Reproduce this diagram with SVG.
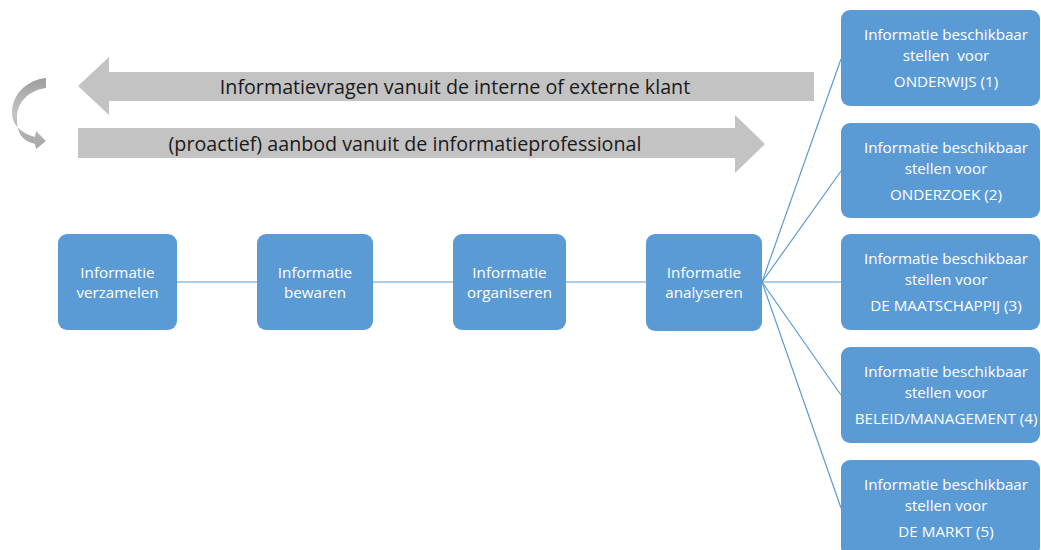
<svg xmlns="http://www.w3.org/2000/svg" width="1041" height="550" viewBox="0 0 1041 550">
<defs>
<style>
.box{fill:#5B9BD5}
.t{font-family:"Open Sans","Liberation Sans",Arial,sans-serif;font-size:15.2px;fill:#ffffff;text-anchor:middle}
.big{font-family:"Open Sans","Liberation Sans",Arial,sans-serif;font-size:19.7px;fill:#1a1a1a;text-anchor:middle}
.con{stroke:#5B9BD5;stroke-width:1.2;fill:none}
.garrow{fill:#C3C3C3}
</style>
<linearGradient id="cg" x1="0" y1="0" x2="0" y2="1">
<stop offset="0" stop-color="#9E9E9E"/>
<stop offset="0.5" stop-color="#C4C4C4"/>
<stop offset="1" stop-color="#A4A4A4"/>
</linearGradient>
</defs>
<rect width="1041" height="550" fill="#ffffff"/>
<g id="arrows">
<polygon class="garrow" points="78,86 109,57 109,72 814,72 814,101 109,101 109,115"/>
<polygon class="garrow" points="78,128 735,128 735,115 765,144 735,173 735,158 78,158"/>
<text class="big" x="455" y="94">Informatievragen vanuit de interne of externe klant</text>
<text class="big" x="405" y="151">(proactief) aanbod vanuit de informatieprofessional</text>
<path fill="url(#cg)" d="M46,78 C26,80 12,95 12,113 C12,124 20,133 35,137 L36,131 L46,141 L36,149 L35,144 C22,141 16,132 17,118 C17,101 30,90 46,88 Z"/>
</g>
<g id="connectors">
<line class="con" x1="177" y1="282" x2="257" y2="282"/>
<line class="con" x1="373" y1="282" x2="453" y2="282"/>
<line class="con" x1="566" y1="282" x2="646" y2="282"/>
<line class="con" x1="762" y1="282" x2="841" y2="59"/>
<line class="con" x1="762" y1="282" x2="841" y2="171"/>
<line class="con" x1="762" y1="282" x2="841" y2="282"/>
<line class="con" x1="762" y1="282" x2="841" y2="395"/>
<line class="con" x1="762" y1="282" x2="841" y2="508"/>
</g>
<g id="n1"><rect class="box" x="58" y="234" width="119" height="96" rx="9"/><text class="t" x="117.5" y="278">Informatie</text><text class="t" x="117.5" y="298">verzamelen</text></g>
<g id="n2"><rect class="box" x="257" y="234" width="116" height="96" rx="9"/><text class="t" x="315" y="278">Informatie</text><text class="t" x="315" y="298">bewaren</text></g>
<g id="n3"><rect class="box" x="453" y="234" width="113" height="96" rx="9"/><text class="t" x="509.5" y="278">Informatie</text><text class="t" x="509.5" y="298">organiseren</text></g>
<g id="n4"><rect class="box" x="646" y="234" width="116" height="97" rx="9"/><text class="t" x="704" y="278">Informatie</text><text class="t" x="704" y="298">analyseren</text></g>
<g id="r1"><rect class="box" x="841" y="10" width="199" height="96" rx="9"/><text class="t" x="946" y="40">Informatie beschikbaar</text><text class="t" x="946" y="61" xml:space="preserve">stellen  voor</text><text class="t" x="946" y="87">ONDERWIJS (1)</text></g>
<g id="r2"><rect class="box" x="841" y="123" width="199" height="95" rx="9"/><text class="t" x="946" y="153">Informatie beschikbaar</text><text class="t" x="946" y="174">stellen voor</text><text class="t" x="946" y="200">ONDERZOEK (2)</text></g>
<g id="r3"><rect class="box" x="841" y="234" width="199" height="96" rx="9"/><text class="t" x="946" y="264">Informatie beschikbaar</text><text class="t" x="946" y="285">stellen voor</text><text class="t" x="946" y="311">DE MAATSCHAPPIJ (3)</text></g>
<g id="r4"><rect class="box" x="841" y="347" width="199" height="96" rx="9"/><text class="t" x="946" y="377">Informatie beschikbaar</text><text class="t" x="946" y="398">stellen voor</text><text class="t" x="946" y="424">BELEID/MANAGEMENT (4)</text></g>
<g id="r5"><rect class="box" x="841" y="460" width="199" height="96" rx="9"/><text class="t" x="946" y="490">Informatie beschikbaar</text><text class="t" x="946" y="511">stellen voor</text><text class="t" x="946" y="537">DE MARKT (5)</text></g>
</svg>
